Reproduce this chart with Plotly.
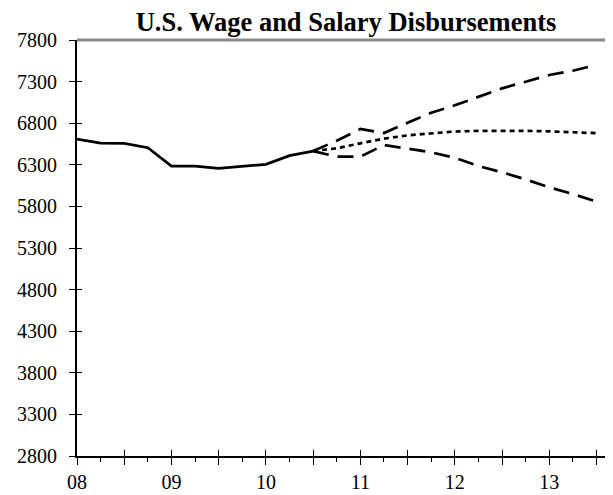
import plotly.graph_objects as go

# ---- data ----
actual_quarters = ["2008Q1", "2008Q2", "2008Q3", "2008Q4", "2009Q1", "2009Q2",
                   "2009Q3", "2009Q4", "2010Q1", "2010Q2", "2010Q3"]
actual_values = [6610, 6560, 6558, 6505, 6285, 6285, 6258, 6282, 6305, 6410, 6465]

forecast_quarters = ["2010Q3", "2010Q4", "2011Q1", "2011Q2", "2011Q3", "2011Q4",
                     "2012Q1", "2012Q2", "2012Q3", "2012Q4", "2013Q1", "2013Q2", "2013Q3"]
upper_values = [6465, 6590, 6730, 6682, 6806, 6926, 7015, 7119, 7219, 7299, 7379, 7431, 7500]
middle_values = [6465, 6498, 6558, 6614, 6654, 6678, 6700, 6708, 6710, 6708, 6702, 6692, 6680]
lower_values = [6465, 6398, 6398, 6538, 6494, 6450, 6385, 6286, 6210, 6125, 6029, 5949, 5857]

year_ticks = [2008, 2009, 2010, 2011, 2012, 2013]
year_labels = ["08", "09", "10", "11", "12", "13"]
y_ticks = [2800, 3300, 3800, 4300, 4800, 5300, 5800, 6300, 6800, 7300, 7800]

title_text = "U.S. Wage and Salary Disbursements"


def q_to_num(q):
    y, qq = q.split("Q")
    return int(y) + (int(qq) - 1) / 4.0


xa = [q_to_num(q) for q in actual_quarters]
xf = [q_to_num(q) for q in forecast_quarters]

half_ticks = []
half_text = []
for y, lab in zip(year_ticks, year_labels):
    half_ticks += [y, y + 0.5]
    half_text += [lab, ""]

x_range = [2008, 2013.675]
y_range = [2800, 7800]
serif = "Liberation Serif, Times New Roman, serif"

# the page body has an 8px margin, so the figure is sized to the remaining window
W, H = 605, 487

fig = go.Figure()
fig.add_trace(go.Scatter(x=xa, y=actual_values, mode="lines",
                         line=dict(color="black", width=2.7), showlegend=False))
fig.add_trace(go.Scatter(x=xf, y=upper_values, mode="lines",
                         line=dict(color="black", width=2.7, dash="16px,9px"), showlegend=False))
fig.add_trace(go.Scatter(x=xf, y=lower_values, mode="lines",
                         line=dict(color="black", width=2.7, dash="16px,9px"), showlegend=False))
fig.add_trace(go.Scatter(x=xf, y=middle_values, mode="lines",
                         line=dict(color="black", width=2.7, dash="5px,4px"), showlegend=False))

fig.update_layout(
    width=W, height=H,
    margin=dict(l=69, r=0, t=32, b=39, autoexpand=False),
    paper_bgcolor="white", plot_bgcolor="white",
    title=dict(text=title_text, x=338 / W, xanchor="center", xref="container",
               y=1 - 14 / H, yanchor="middle", yref="container", automargin=False,
               font=dict(family=serif, size=26.5, color="black", weight="bold")),
    xaxis=dict(range=x_range, showgrid=False, zeroline=False, automargin=False,
               showline=True, linecolor="black", linewidth=2,
               tickmode="array", tickvals=half_ticks, ticktext=half_text,
               ticks="outside", ticklen=7, tickwidth=1.2, tickcolor="black",
               ticklabelstandoff=0,
               minor=dict(dtick=0.25, tick0=2008, ticks="outside", ticklen=4,
                          tickwidth=1, tickcolor="black"),
               tickfont=dict(family=serif, size=20, color="black")),
    xaxis2=dict(range=x_range, overlaying="x", anchor="y", side="bottom",
                automargin=False,
                showgrid=False, zeroline=False, showline=False,
                tickmode="array", tickvals=half_ticks[1:], showticklabels=False,
                ticks="inside", ticklen=6, tickwidth=1.2, tickcolor="black"),
    yaxis=dict(range=y_range, showgrid=False, zeroline=False, automargin=False,
               showline=True, linecolor="black", linewidth=2,
               tickmode="array", tickvals=y_ticks,
               ticks="outside", ticklen=6, tickwidth=1.2, tickcolor="black",
               ticklabelstandoff=8,
               tickfont=dict(family=serif, size=20, color="black")),
    yaxis2=dict(range=y_range, overlaying="y", anchor="x", side="left",
                automargin=False,
                showgrid=False, zeroline=False, showline=False,
                tickmode="array", tickvals=y_ticks[1:], showticklabels=False,
                ticks="inside", ticklen=5, tickwidth=1.2, tickcolor="black"),
    shapes=[dict(type="line", xref="paper", yref="paper", x0=0, x1=1, y0=1, y1=1,
                 line=dict(color="#8a8a8a", width=3), layer="below")],
)
# invisible trace to activate the overlay axes (used for crossing ticks)
fig.add_trace(go.Scatter(x=[x_range[0]], y=[y_range[0]], xaxis="x2", yaxis="y2",
                         mode="markers", marker=dict(opacity=0), showlegend=False,
                         hoverinfo="skip"))

fig.write_html("out.html")
